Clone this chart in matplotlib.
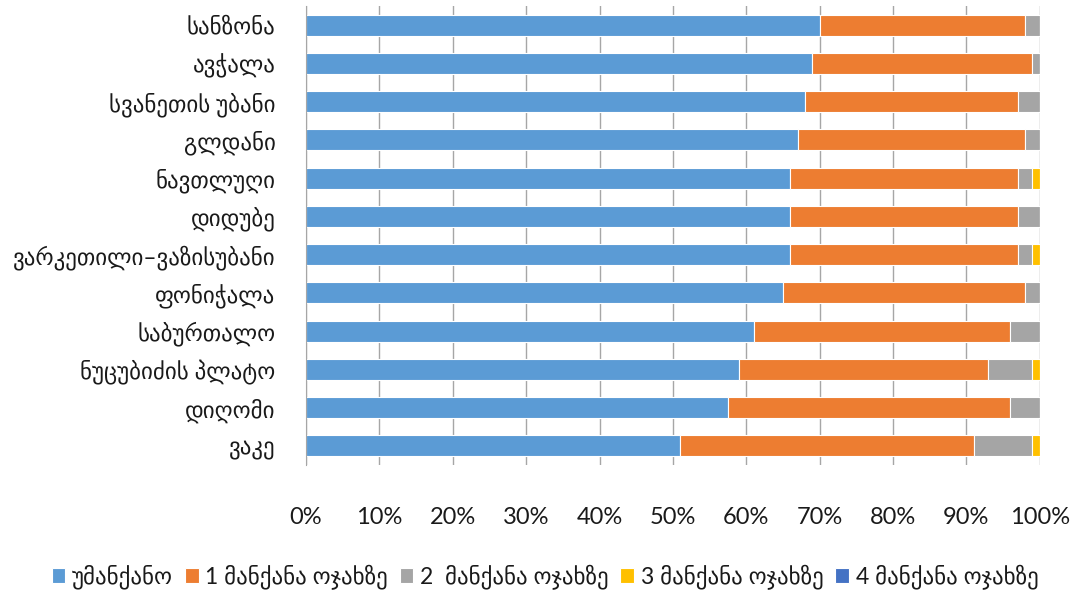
import matplotlib
matplotlib.use("Agg")
import matplotlib.pyplot as plt
import numpy as np

plt.rcParams['font.family'] = ['Lato', 'DejaVu Sans']

# უბნები, ზემოდან ქვემოთ
districts = ["სანზონა", "ავჭალა", "სვანეთის უბანი", "გლდანი", "ნავთლუღი", "დიდუბე",
             "ვარკეთილი–ვაზისუბანი", "ფონიჭალა", "საბურთალო", "ნუცუბიძის პლატო",
             "დიღომი", "ვაკე"]

# წილები, %
no_car = [70, 69, 68, 67, 66, 66, 66, 65, 61, 59, 57.5, 51]
one_car = [28, 30, 29, 31, 31, 31, 31, 33, 35, 34, 38.5, 40]
two_cars = [2, 1, 3, 2, 2, 3, 2, 2, 4, 6, 4, 8]
three_cars = [0, 0, 0, 0, 1, 0, 1, 0, 0, 1, 0, 1]
four_cars = [0, 0, 0, 0, 0, 0, 0, 0, 0, 0, 0, 0]

series = [no_car, one_car, two_cars, three_cars, four_cars]
labels = ["უმანქანო", "1 მანქანა ოჯახზე", "2  მანქანა ოჯახზე",
          "3 მანქანა ოჯახზე", "4 მანქანა ოჯახზე"]
colors = ["#5B9BD5", "#ED7D31", "#A5A5A5", "#FFC000", "#4472C4"]

fig = plt.figure(figsize=(10.73, 5.9), dpi=100)
ax = fig.add_axes([0.2852, 0.2119, 0.969 - 0.2852, 0.9898 - 0.2119])

y = np.arange(len(districts))
left = np.zeros(len(districts))
for vals, lab, col in zip(series, labels, colors):
    vals = np.array(vals, dtype=float)
    ax.barh(y, vals, left=left, height=0.55, color=col, edgecolor="white",
            linewidth=0.8, label=lab)
    left += vals

ax.set_xlim(0, 100)
ax.set_ylim(len(districts) - 0.5, -0.5)
ax.set_yticks(y)
ax.set_yticklabels(districts, fontsize=16.5, color="#1a1a1a")
ax.set_xticks(np.arange(0, 101, 10))
ax.set_xticklabels([f"{v}%" for v in range(0, 101, 10)], fontsize=17, color="#1a1a1a")
ax.tick_params(axis="x", length=0, pad=30)
ax.tick_params(axis="y", length=0, pad=22)

ax.set_axisbelow(True)
ax.grid(axis="x", color="#A6A6A6", linewidth=1)
for s in ["top", "right", "bottom"]:
    ax.spines[s].set_visible(False)
ax.spines["left"].set_color("#A6A6A6")

fig.legend(loc="center", bbox_to_anchor=(0.508, 0.022), ncol=5, frameon=False,
           fontsize=16.5, handlelength=0.6, handleheight=0.6, handletextpad=0.3,
           columnspacing=0.5, borderaxespad=0, labelcolor="#1a1a1a")

fig.savefig("out.png", dpi=100)
